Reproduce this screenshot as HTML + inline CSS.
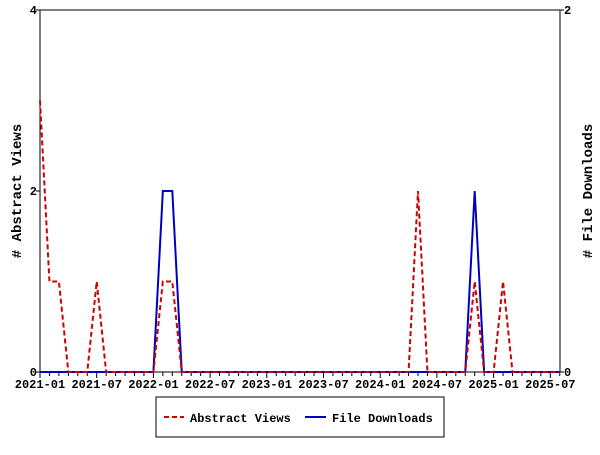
<!DOCTYPE html>
<html><head><meta charset="utf-8"><style>
body{margin:0;background:#fff;}
svg text{font-family:"Liberation Mono","DejaVu Sans Mono",monospace;font-size:12px;font-weight:bold;fill:#000;}
</style></head><body>
<svg id="chart" width="600" height="450">
<g id="axes"></g><g id="series"></g>
<rect x="156" y="397" width="288" height="40" fill="none" stroke="#000"/>
<line x1="164" y1="417" x2="184" y2="417" stroke="#d00000" stroke-width="2" stroke-dasharray="5,3"/>
<text x="190" y="422">Abstract Views</text>
<line x1="305" y1="417" x2="326" y2="417" stroke="#0000c0" stroke-width="2"/>
<text x="332" y="422">File Downloads</text>
<text transform="translate(21,191) rotate(-90)" text-anchor="middle" style="font-size:14px"># Abstract Views</text>
<text transform="translate(592,191) rotate(-90)" text-anchor="middle" style="font-size:14px"># File Downloads</text>
</svg>
<script>
const monthCount = 56;
const tickLabels = ["2021-01","2021-07","2022-01","2022-07","2023-01","2023-07","2024-01","2024-07","2025-01","2025-07"];
const leftTicks = [0,2,4];
const rightTicks = [0,2];
const abstractViews = [3,1,1,0,0,0,1,0,0,0,0,0,0,1,1,0,0,0,0,0,0,0,0,0,0,0,0,0,0,0,0,0,0,0,0,0,0,0,0,0,2,0,0,0,0,0,1,0,0,1,0,0,0,0,0,0];
const fileDownloads = [0,0,0,0,0,0,0,0,0,0,0,0,0,1,1,0,0,0,0,0,0,0,0,0,0,0,0,0,0,0,0,0,0,0,0,0,0,0,0,0,0,0,0,0,0,0,1,0,0,0,0,0,0,0,0,0];
const NS="http://www.w3.org/2000/svg";
const X0=40,X1=560,Y0=372,Y1=10,PX=9.45;
function x(i){return X0+i*PX;}
function yL(v){return Y0-(v/4)*(Y0-Y1);}
function yR(v){return Y0-(v/2)*(Y0-Y1);}
function mk(tag,attrs,parent){const e=document.createElementNS(NS,tag);for(const k in attrs)e.setAttribute(k,attrs[k]);parent.appendChild(e);return e;}
const axes=document.getElementById('axes'),series=document.getElementById('series');
let f=mk('rect',{x:X0,y:Y1,width:X1-X0,height:Y0-Y1,fill:'none',stroke:'#000'},axes);


for(let i=0;i<monthCount;i++){
  const major=i%6===0;
  const t=mk('line',{x1:x(i),x2:x(i),y1:Y0,y2:Y0+(major?6:4),stroke:'#000'},axes);
  
  
}
tickLabels.forEach((l,k)=>{
  const t=mk('text',{x:x(k*6),y:Y0+16,'text-anchor':'middle'},axes);t.textContent=l;
  
  
});
leftTicks.forEach(v=>{
  const t=mk('text',{x:X0-3,y:yL(v)+4,'text-anchor':'end'},axes);t.textContent=v;
  
  
  mk('line',{x1:X0-4,x2:X0,y1:yL(v),y2:yL(v),stroke:'#000'},axes);
});
rightTicks.forEach(v=>{
  const t=mk('text',{x:X1+4,y:yR(v)+4},axes);t.textContent=v;
  
  
  mk('line',{x1:X1,x2:X1+4,y1:yR(v),y2:yR(v),stroke:'#000'},axes);
});
let p=mk('polyline',{points:fileDownloads.map((v,i)=>x(i)+','+yR(v)).join(' '),fill:'none',stroke:'#0000c0','stroke-width':2},series);


p=mk('polyline',{points:abstractViews.map((v,i)=>x(i)+','+yL(v)).join(' '),fill:'none',stroke:'#d00000','stroke-width':2,'stroke-dasharray':'5,3'},series);


</script>
</body></html>
